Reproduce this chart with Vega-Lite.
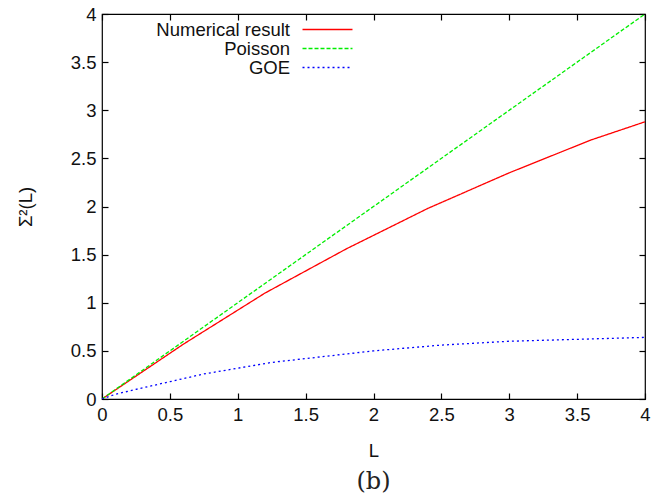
{
  "$schema": "https://vega.github.io/schema/vega-lite/v6.json",
  "width": 543,
  "height": 385,
  "autosize": "none",
  "padding": {"left": 102, "top": 14, "right": 24, "bottom": 101},
  "background": "white",
  "title": {"text": "(b)", "orient": "bottom", "font": "DejaVu Serif", "fontSize": 24, "fontWeight": "normal", "color": "#222222", "offset": 10},
  "config": {
    "view": {"stroke": "black", "strokeWidth": 1.2},
    "axis": {
      "domain": false,
      "grid": false,
      "ticks": true,
      "tickColor": "black",
      "tickSize": -6,
      "tickWidth": 1.2,
      "labelFont": "Liberation Sans",
      "labelFontSize": 18.5,
      "labelColor": "#111111",
      "titleFont": "Liberation Sans",
      "titleFontSize": 18.5,
      "titleFontWeight": "normal",
      "titleColor": "#111111"
    }
  },
  "data": {
    "values": [
      {"series": "Numerical result", "L": 0, "S": 0},
      {"series": "Numerical result", "L": 0.6, "S": 0.57},
      {"series": "Numerical result", "L": 1.2, "S": 1.1},
      {"series": "Numerical result", "L": 1.8, "S": 1.56},
      {"series": "Numerical result", "L": 2.4, "S": 1.98},
      {"series": "Numerical result", "L": 3.0, "S": 2.35},
      {"series": "Numerical result", "L": 3.6, "S": 2.69},
      {"series": "Numerical result", "L": 4.0, "S": 2.88},
      {"series": "Poisson", "L": 0, "S": 0},
      {"series": "Poisson", "L": 4, "S": 4},
      {"series": "GOE", "L": 0, "S": 0},
      {"series": "GOE", "L": 0.1, "S": 0.05},
      {"series": "GOE", "L": 0.25, "S": 0.1},
      {"series": "GOE", "L": 0.5, "S": 0.18},
      {"series": "GOE", "L": 0.75, "S": 0.26},
      {"series": "GOE", "L": 1.0, "S": 0.32},
      {"series": "GOE", "L": 1.25, "S": 0.38},
      {"series": "GOE", "L": 1.5, "S": 0.42},
      {"series": "GOE", "L": 2.0, "S": 0.5},
      {"series": "GOE", "L": 2.5, "S": 0.56},
      {"series": "GOE", "L": 3.0, "S": 0.6},
      {"series": "GOE", "L": 3.5, "S": 0.62},
      {"series": "GOE", "L": 4.0, "S": 0.64}
    ]
  },
  "layer": [
    {
      "mark": {"type": "line", "strokeWidth": 1.3, "clip": true},
      "encoding": {
        "x": {"field": "L", "type": "quantitative", "scale": {"domain": [0, 4], "nice": false, "zero": false},
              "axis": {"orient": "bottom", "values": [0, 0.5, 1, 1.5, 2, 2.5, 3, 3.5, 4], "format": "~g", "labelPadding": 12, "title": "L", "titlePadding": 18, "labelFlush": false}},
        "y": {"field": "S", "type": "quantitative", "scale": {"domain": [0, 4], "nice": false, "zero": false},
              "axis": {"orient": "left", "values": [0, 0.5, 1, 1.5, 2, 2.5, 3, 3.5, 4], "format": "~g", "labelPadding": 12, "title": "Σ²(L)", "titlePadding": 35, "labelFlush": false}},
        "color": {"field": "series", "type": "nominal",
                  "scale": {"domain": ["Numerical result", "Poisson", "GOE"], "range": ["#ff0000", "#00ee00", "#0000ff"]},
                  "legend": {"orient": "none", "legendX": 216, "legendY": 6, "title": null, "symbolType": "M-2.94,0H2.94", "symbolSize": 289, "symbolStrokeWidth": 1.3, "labelAlign": "right", "labelOffset": -47, "labelFont": "Liberation Sans", "labelFontSize": 18.5, "labelColor": "#111111", "rowPadding": 0, "padding": 0, "labelLimit": 300}},
        "strokeDash": {"field": "series", "type": "nominal",
                  "scale": {"domain": ["Numerical result", "Poisson", "GOE"], "range": [[1, 0], [4, 2], [2, 3]]},
                  "legend": {"orient": "none", "legendX": 216, "legendY": 6, "title": null, "symbolType": "M-2.94,0H2.94", "symbolSize": 289, "symbolStrokeWidth": 1.3, "labelAlign": "right", "labelOffset": -47, "labelFont": "Liberation Sans", "labelFontSize": 18.5, "labelColor": "#111111", "rowPadding": 0, "padding": 0, "labelLimit": 300}}
      }
    },
    {
      "mark": {"type": "line", "opacity": 0},
      "encoding": {
        "x": {"field": "L", "type": "quantitative", "scale": {"domain": [0, 4], "nice": false, "zero": false},
              "axis": {"orient": "top", "values": [0, 0.5, 1, 1.5, 2, 2.5, 3, 3.5, 4], "labels": false, "title": null}},
        "y": {"field": "S", "type": "quantitative", "scale": {"domain": [0, 4], "nice": false, "zero": false},
              "axis": {"orient": "right", "values": [0, 0.5, 1, 1.5, 2, 2.5, 3, 3.5, 4], "labels": false, "title": null}},
        "detail": {"field": "series", "type": "nominal"}
      }
    }
  ],
  "resolve": {"axis": {"x": "independent", "y": "independent"}}
}
